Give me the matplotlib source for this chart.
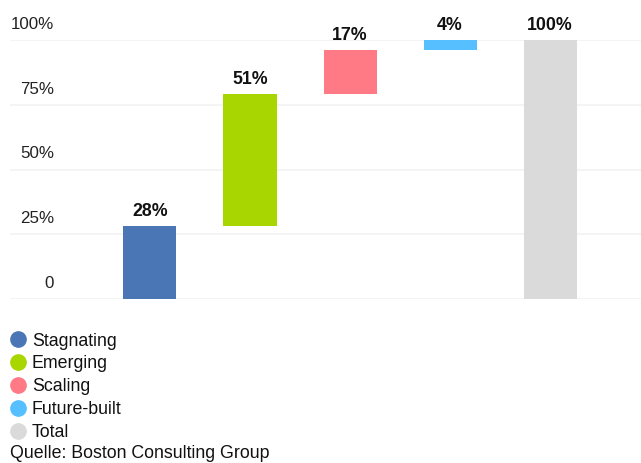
import matplotlib.pyplot as plt
from matplotlib.lines import Line2D

plt.rcParams["font.family"] = ["Liberation Sans", "DejaVu Sans"]

categories = ["Stagnating", "Emerging", "Scaling", "Future-built", "Total"]
values = [28, 51, 17, 4, 100]
colors = ["#4a76b5", "#a8d600", "#ff7a85", "#55bfff", "#dadada"]
yticks = [0, 25, 50, 75, 100]
ytick_labels = ["0", "25%", "50%", "75%", "100%"]
source = "Quelle: Boston Consulting Group"

# waterfall bottoms: each step starts where the previous ended, total from 0
bottoms = []
running = 0
for v in values[:-1]:
    bottoms.append(running)
    running += v
bottoms.append(0)

fig = plt.figure(figsize=(6.41, 4.63), dpi=100)
ax = fig.add_axes([10 / 641, 1 - 299 / 463, 631 / 641, 259 / 463])

x = list(range(len(categories)))
ax.bar(x, values, bottom=bottoms, width=0.53, color=colors, zorder=2)

for xi, v, b in zip(x, values, bottoms):
    ax.annotate(f"{v}%", xy=(xi, b + v), xytext=(0, 6), textcoords="offset pixels",
                ha="center", va="bottom", fontsize=12.8, fontweight="bold",
                color="#111111", annotation_clip=False)

for t, lab in zip(yticks, ytick_labels):
    ax.axhline(t, color="#f2f2f2", lw=1.2, zorder=1)
    ax.annotate(lab, xy=(0, t), xycoords=("axes fraction", "data"),
                xytext=(44, 8), textcoords="offset pixels", ha="right", va="bottom",
                fontsize=12.2, color="#222222", annotation_clip=False)

ax.set_xlim(-1.4, 4.91)
ax.set_ylim(0, 100)
ax.set_xticks([])
ax.set_yticks([])
for s in ax.spines.values():
    s.set_visible(False)

handles = [Line2D([], [], marker="o", ls="", markersize=11, color=c) for c in colors]
fig.legend(handles, categories, loc="upper left", bbox_to_anchor=(6 / 641, 1 - 329 / 463),
           frameon=False, fontsize=12.8, handletextpad=0.25, labelspacing=0.33,
           handlelength=1.0, borderaxespad=0, borderpad=0.2, labelcolor="#111111")

fig.text(10 / 641, 1 - 453 / 463, source, ha="left", va="center", fontsize=12.8,
         color="#111111")

fig.savefig("out.png", dpi=100)
